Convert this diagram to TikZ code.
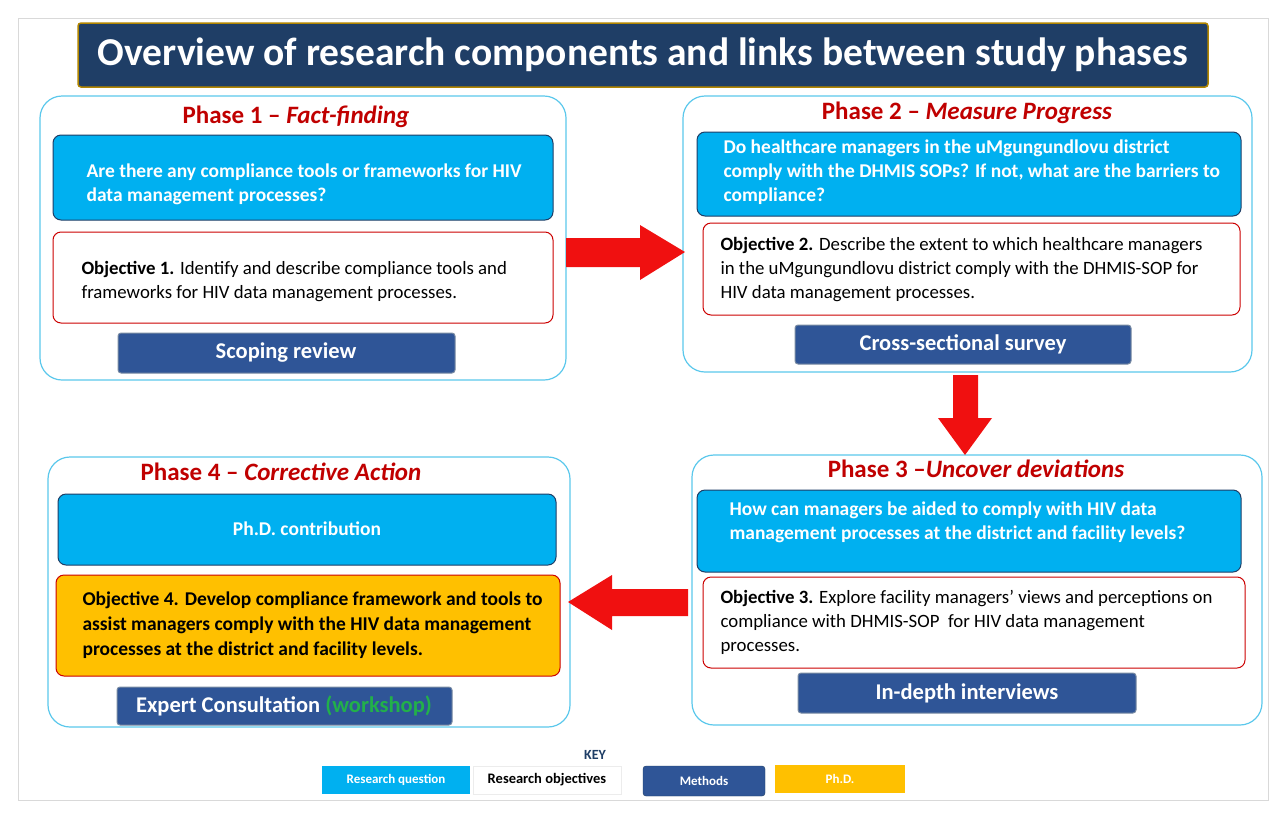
\documentclass[tikz,border=0pt]{standalone}
\usepackage{fontspec}
\setmainfont{Carlito}
\usetikzlibrary{shapes.arrows}
\definecolor{navy}{HTML}{1F3E66}
\definecolor{mblue}{HTML}{2F5597}
\definecolor{cyanq}{HTML}{00B0F0}
\definecolor{pborder}{HTML}{5BC8EC}
\definecolor{dred}{HTML}{C00000}
\definecolor{gold}{HTML}{FFC000}
\definecolor{arr}{HTML}{F01010}
\definecolor{wgreen}{HTML}{22B04A}
\begin{document}
\begin{tikzpicture}[x=1pt,y=-1pt,
 panel/.style={draw=pborder,line width=1.2pt,rounded corners=22pt,fill=white},
 rq/.style={draw=navy,line width=1pt,fill=cyanq,rounded corners=8pt},
 obj/.style={draw=red!80!black,line width=1pt,fill=white,rounded corners=8pt},
 meth/.style={draw=navy!60,line width=1pt,fill=mblue,rounded corners=3pt},
 ptitle/.style={text=dred,font=\bfseries\fontsize{25}{27}\selectfont},
 rqt/.style={text=white,font=\bfseries\fontsize{19.5}{24}\selectfont,align=left,anchor=west},
 objt/.style={text=black,font=\fontsize{18.8}{24}\selectfont,align=left,anchor=west},
 mt/.style={text=white,font=\bfseries\fontsize{22.5}{25}\selectfont},
 rarrow/.style={fill=arr,draw=none}]
\useasboundingbox (0,0) rectangle (1280,812);
\fill[white] (0,0) rectangle (1280,812);
\draw[gray!30,line width=1pt] (18,18) rectangle (1268,800);
% title
\node[draw=gold!70!black,line width=1.5pt,fill=navy,rounded corners=3pt,minimum width=1130pt,minimum height=64pt,text=white,font=\bfseries\fontsize{39.5}{42}\selectfont] (title) at (643,55) {Overview of research components and links between study phases};
% Phase 1
\draw[panel] (40,96) rectangle (566,380);
\node[ptitle] (p1) at (296,117) {Phase 1 -- \textit{Fact-finding}};
\draw[rq] (53,135) rectangle (553,220);
\node[rqt] (q1) at (83,184) {Are there any compliance tools or frameworks for HIV\\data management processes?};
\draw[obj] (53,232) rectangle (553,323);
\node[objt] (o1) at (78,281) {\textbf{Objective 1.} Identify and describe compliance tools and\\frameworks for HIV data management processes.};
\draw[meth] (118,333) rectangle (455,373);
\node[mt] (m1) at (286,353) {Scoping review};
% Phase 2
\draw[panel] (683,96) rectangle (1252,372);
\node[ptitle] (p2) at (967,113) {Phase 2 -- \textit{Measure Progress}};
\draw[rq] (697,132) rectangle (1241,216);
\node[rqt] (q2) at (720,172) {Do healthcare managers in the uMgungundlovu district\\comply with the DHMIS SOPs? If not, what are the barriers to\\compliance?};
\draw[obj] (703,223) rectangle (1240,315);
\node[objt] (o2) at (717,269) {\textbf{Objective 2.} Describe the extent to which healthcare managers\\in the uMgungundlovu district comply with the DHMIS-SOP for\\HIV data management processes.};
\draw[meth] (795,325) rectangle (1131,364);
\node[mt] (m2) at (963,344) {Cross-sectional survey};
% Phase 3
\draw[panel] (692,455) rectangle (1262,725);
\node[ptitle] (p3) at (976,469) {Phase 3 --\textit{Uncover deviations}};
\draw[rq] (697,490) rectangle (1241,572);
\node[rqt] (q3) at (726,522) {How can managers be aided to comply with HIV data\\management processes at the district and facility levels?};
\draw[obj] (703,577) rectangle (1245,668);
\node[objt] (o3) at (717,622) {\textbf{Objective 3.} Explore facility managers' views and perceptions on\\compliance with DHMIS-SOP\ \ for HIV data management\\processes.};
\draw[meth] (798,673) rectangle (1136,713);
\node[mt] (m3) at (967,693) {In-depth interviews};
% Phase 4
\draw[panel] (48,457) rectangle (570,727);
\node[ptitle] (p4) at (281,472) {Phase 4 -- \textit{Corrective Action}};
\draw[rq] (58,494) rectangle (556,565);
\node[text=white,font=\bfseries\fontsize{19.5}{24}\selectfont] (q4) at (307,529) {Ph.D. contribution};
\draw[obj,fill=gold] (56,575) rectangle (560,676);
\node[objt,font=\bfseries\fontsize{19.5}{25}\selectfont] (o4) at (79,625) {Objective 4. Develop compliance framework and tools to\\assist managers comply with the HIV data management\\processes at the district and facility levels.};
\draw[meth] (117,687) rectangle (452,725);
\node[mt] (m4) at (284,706) {Expert Consultation \textcolor{wgreen}{(workshop)}};
% arrows
\fill[rarrow] (566,238) -- (640,238) -- (640,225) -- (685,252) -- (640,280) -- (640,267) -- (566,267) -- cycle;
\fill[rarrow] (953,375) -- (978,375) -- (978,418) -- (992,418) -- (965,455) -- (938,418) -- (953,418) -- cycle;
\fill[rarrow] (688,589) -- (612,589) -- (612,575) -- (568,602) -- (612,630) -- (612,616) -- (688,616) -- cycle;
% key
\node[font=\bfseries\fontsize{14}{15}\selectfont,text=navy] (key) at (595,755) {KEY};
\node[fill=cyanq,minimum width=148pt,minimum height=28pt,text=white,font=\bfseries\fontsize{13}{14}\selectfont] (k1) at (396,780) {Research question};
\node[fill=white,draw=gray!15,minimum width=148pt,minimum height=28pt,font=\bfseries\fontsize{14.5}{15}\selectfont] (k2) at (547,780) {Research objectives};
\node[fill=mblue,draw=navy,rounded corners=3pt,minimum width=122pt,minimum height=30pt,text=white,font=\bfseries\fontsize{13}{14}\selectfont] (k3) at (704,781) {Methods};
\node[fill=gold,minimum width=130pt,minimum height=28pt,text=white,font=\bfseries\fontsize{13}{14}\selectfont] (k4) at (840,779) {Ph.D.};
\end{tikzpicture}
\end{document}
